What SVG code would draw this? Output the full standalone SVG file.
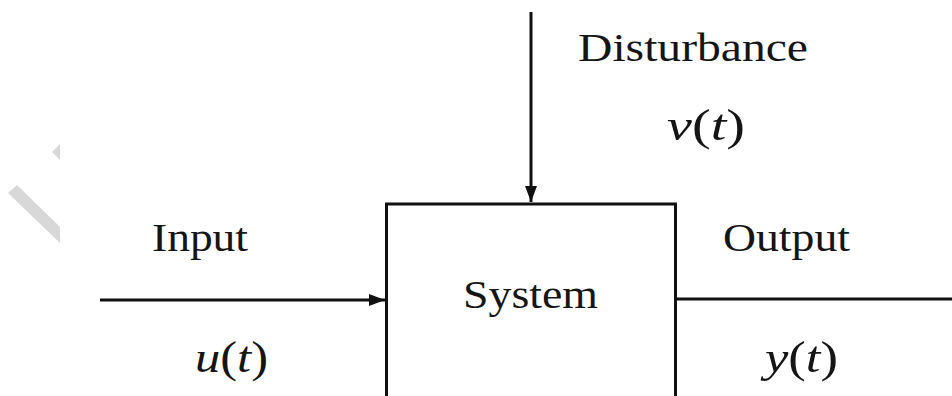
<svg xmlns="http://www.w3.org/2000/svg" width="952" height="396" viewBox="0 0 952 396">
<style>
.line{stroke:#111;stroke-width:3;fill:none}
.wm{fill:#d8d8d8}
</style>
<defs>
<marker id="arr" viewBox="0 0 16 12" refX="16" refY="6" markerWidth="16" markerHeight="12" markerUnits="userSpaceOnUse" orient="auto">
<path d="M0,0 L16,6 L0,12 z" fill="#111"/>
</marker>
</defs>
<rect width="952" height="396" fill="#fff"/>
<g id="watermark">
<polygon class="wm" points="52,152 60,144 60,160"/>
<polygon class="wm" points="8,193 17,185 60,227 60,243"/>
</g>
<g id="connectors">
<line class="line" x1="531" y1="12" x2="531" y2="202" marker-end="url(#arr)"/>
<line class="line" x1="100" y1="300" x2="385" y2="300" marker-end="url(#arr)"/>
<line class="line" x1="676" y1="299" x2="952" y2="299"/>
</g>
<g font-family="Liberation Serif, Times New Roman, serif" fill="#151515">
<g id="system">
<rect class="line" x="386.5" y="204" width="289" height="210"/>
<text font-size="41" x="463" y="308" textLength="135" lengthAdjust="spacingAndGlyphs">System</text>
</g>
<g id="disturbance">
<text font-size="41" x="578" y="61" textLength="230" lengthAdjust="spacingAndGlyphs">Disturbance</text>
<text font-size="45" x="667" y="140" textLength="78" lengthAdjust="spacingAndGlyphs"><tspan font-style="italic">v</tspan>(<tspan font-style="italic">t</tspan>)</text>
</g>
<g id="input">
<text font-size="41" x="152" y="251" textLength="96" lengthAdjust="spacingAndGlyphs">Input</text>
<text font-size="45" x="195" y="372" textLength="73" lengthAdjust="spacingAndGlyphs"><tspan font-style="italic">u</tspan>(<tspan font-style="italic">t</tspan>)</text>
</g>
<g id="output">
<text font-size="41" x="723" y="251" textLength="127" lengthAdjust="spacingAndGlyphs">Output</text>
<text font-size="45" x="765" y="372" textLength="73" lengthAdjust="spacingAndGlyphs"><tspan font-style="italic">y</tspan>(<tspan font-style="italic">t</tspan>)</text>
</g>
</g>
</svg>
